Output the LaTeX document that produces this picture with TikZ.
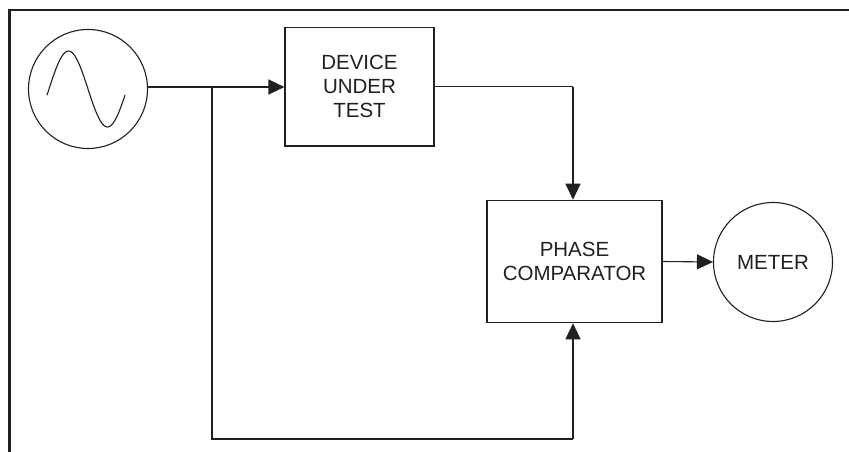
\documentclass[tikz,border=0pt]{standalone}
\usepackage{fontspec}
\setmainfont{Liberation Sans}
\usetikzlibrary{arrows.meta}
\definecolor{ink}{HTML}{231F20}
\begin{document}
\begin{tikzpicture}[x=1pt,y=-1pt,
  line/.style={draw=ink,line width=1.1pt},
  arr/.style={line,-{Triangle[length=16pt,width=15pt]}},
  blockbox/.style={draw=ink,line width=1.1pt,rectangle,inner sep=0pt,align=center,
    font=\fontsize{20.5}{24}\selectfont,text=ink},
  roundbox/.style={draw=ink,line width=1.1pt,circle,inner sep=0pt,minimum size=119pt,
    font=\fontsize{20.5}{24}\selectfont,text=ink}]
\useasboundingbox (0,0) rectangle (849,452);
% frame (top and left edges)
\draw[draw=ink,line width=2.6pt] (9.5,452) -- (9.5,10) -- (849,10);
% nodes
\node[roundbox] (src) at (88,89) {};
\draw[draw=ink,line width=1.1pt] plot[domain=47:125,samples=60,smooth] (\x,{89-38*sin((\x-49)*180/39)});
\node[blockbox,minimum width=149pt,minimum height=118.5pt] (dut) at (359.5,86.75) {DEVICE\\UNDER\\TEST};
\node[blockbox,minimum width=175pt,minimum height=122.5pt] (pc) at (574.5,261.5) {PHASE\\COMPARATOR};
\node[roundbox] (meter) at (773,262) {METER};
% connectors
\coordinate (br) at (212,87);
\coordinate (bl) at (212,439);
\coordinate (dr) at (573,86.75);
\coordinate (ur) at (573,439);
\draw[arr] (src.east |- br) -- (dut.west |- br);
\draw[line] (br) -- (bl) -- (ur);
\draw[arr] (ur) -- (ur |- pc.south);
\draw[line] (dut.east) -- (dr);
\draw[arr] (dr) -- (dr |- pc.north);
\draw[arr] (pc.east) -- (meter.west);
\end{tikzpicture}
\end{document}
